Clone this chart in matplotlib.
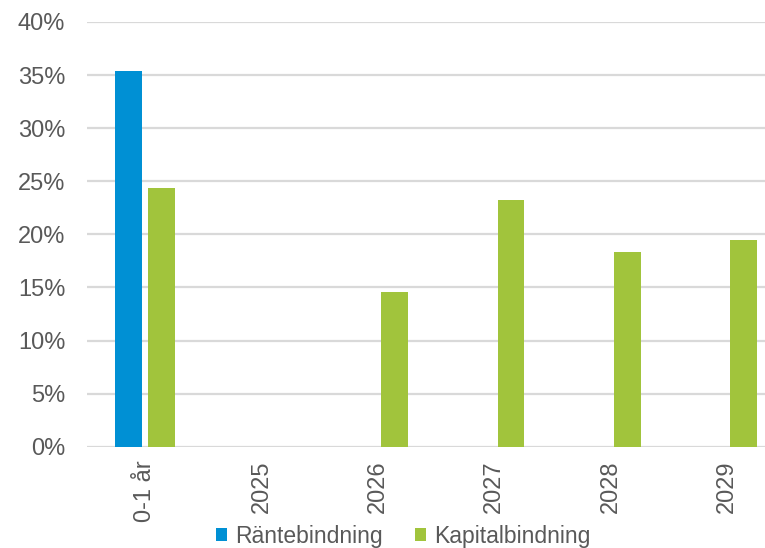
import matplotlib.pyplot as plt
import numpy as np

categories = ["0-1 år", "2025", "2026", "2027", "2028", "2029"]
rantebindning = [35.4, 0, 0, 0, 0, 0]
kapitalbindning = [24.4, 0, 14.6, 23.2, 18.3, 19.5]
yticks = [0, 5, 10, 15, 20, 25, 30, 35, 40]

BLUE = "#0090D4"
GREEN = "#A1C43C"
GRID = "#D9D9D9"
TEXT = "#595959"

plt.rcParams["font.family"] = ["Liberation Sans", "DejaVu Sans"]

fig = plt.figure(figsize=(7.65, 5.48), dpi=100)
# the source image cuts off the right end of the plot area
ax = fig.add_axes([86.8 / 765, 101.3 / 548, 698.4 / 765, 424.7 / 548])

x = np.arange(len(categories))
width = 0.228
off = 0.143
ax.bar(x - off, rantebindning, width, color=BLUE, label="Räntebindning", zorder=3)
ax.bar(x + off, kapitalbindning, width, color=GREEN, label="Kapitalbindning", zorder=3)

ax.set_xlim(-0.5, len(categories) - 0.5)
ax.set_ylim(0, 40)
ax.set_yticks(yticks)
ax.set_yticklabels([f"{v}%" for v in yticks])
ax.set_xticks(x)
ax.set_xticklabels(categories, rotation=90)

ax.grid(axis="y", color=GRID, linewidth=1.6, zorder=0)
for side in ["top", "right", "left", "bottom"]:
    ax.spines[side].set_visible(False)
ax.tick_params(axis="both", length=0, labelsize=17, labelcolor=TEXT)
ax.tick_params(axis="y", pad=15.5)
ax.tick_params(axis="x", pad=10)

fig.legend(
    loc="center",
    bbox_to_anchor=(403 / 765, 12 / 548),
    ncol=2,
    frameon=False,
    fontsize=16.5,
    labelcolor=TEXT,
    handlelength=0.48,
    handleheight=0.48,
    handletextpad=0.35,
    columnspacing=1.4,
    borderaxespad=0,
    borderpad=0,
)

fig.savefig("out.png", dpi=100)
